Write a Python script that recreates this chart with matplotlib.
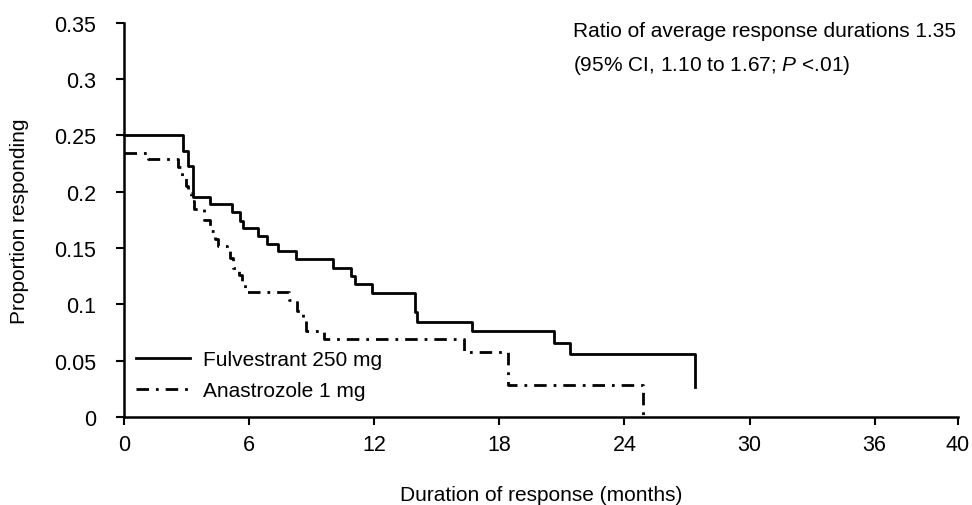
import matplotlib.pyplot as plt

plt.rcParams['font.family'] = ['Liberation Sans', 'DejaVu Sans']
plt.rcParams['mathtext.fontset'] = 'custom'
plt.rcParams['mathtext.rm'] = 'Liberation Sans'
plt.rcParams['mathtext.it'] = 'Liberation Sans:italic'

# Kaplan-Meier style step data: event times (months) and proportion after each event
fulv_t = [0, 2.83, 3.07, 3.31, 4.12, 5.18, 5.56, 5.7, 6.43, 6.86, 7.39, 8.25,
          10.0, 10.9, 11.1, 11.9, 13.96, 14.05, 16.7, 20.6, 21.4, 27.4]
fulv_p = [0.25, 0.236, 0.223, 0.195, 0.189, 0.182, 0.174, 0.168, 0.161, 0.154,
          0.147, 0.140, 0.132, 0.125, 0.118, 0.110, 0.093, 0.084, 0.076, 0.066,
          0.056, 0.027]

ana_t = [0, 1.15, 2.6, 2.8, 2.95, 3.05, 3.2, 3.35, 3.85, 4.1, 4.35, 4.5, 4.95,
         5.1, 5.25, 5.5, 5.65, 5.8, 7.9, 8.3, 8.6, 8.75, 9.6, 16.3, 18.4, 24.9]
ana_p = [0.234, 0.229, 0.222, 0.214, 0.205, 0.199, 0.192, 0.185, 0.175, 0.165,
         0.158, 0.152, 0.147, 0.141, 0.132, 0.126, 0.118, 0.111, 0.104, 0.094,
         0.085, 0.076, 0.069, 0.058, 0.028, 0.0]

x_ticks = [0, 6, 12, 18, 24, 30, 36, 40]
y_ticks = [0, 0.05, 0.1, 0.15, 0.2, 0.25, 0.3, 0.35]
y_labels = ['0', '0.05', '0.1', '0.15', '0.2', '0.25', '0.3', '0.35']

fig = plt.figure(figsize=(9.72, 5.06), dpi=100)
ax = fig.add_axes([0.1276, 0.174, 0.858, 0.779])

ax.plot(fulv_t, fulv_p, drawstyle='steps-post', color='black', lw=2.0,
        label='Fulvestrant 250 mg', clip_on=False)
ax.plot(ana_t, ana_p, drawstyle='steps-post', color='black', lw=2.0,
        linestyle=(0, (4.5, 2.5, 1, 2.5)), label='Anastrozole 1 mg', clip_on=False)

ax.set_xlim(0, 40)
ax.set_ylim(0, 0.35)
ax.set_xticks(x_ticks)
ax.set_yticks(y_ticks)
ax.set_yticklabels(y_labels)
ax.tick_params(direction='out', length=6, width=1.5, labelsize=15.5)
ax.tick_params(axis='x', pad=6)
ax.tick_params(axis='y', pad=14)

for side in ['top', 'right']:
    ax.spines[side].set_visible(False)
for side in ['left', 'bottom']:
    ax.spines[side].set_linewidth(1.8)

ax.set_xlabel('Duration of response (months)', fontsize=15, labelpad=22)
ax.set_ylabel('Proportion responding', fontsize=15, labelpad=18)

ax.legend(loc='lower left', bbox_to_anchor=(-0.003, 0.005), frameon=False,
          fontsize=15, handlelength=2.6, handletextpad=0.6, labelspacing=0.6,
          borderaxespad=0.3)

ax.text(0.538, 0.98, 'Ratio of average response durations 1.35',
        transform=ax.transAxes, fontsize=15, va='center', ha='left')
ax.text(0.538, 0.895, '(95% CI, 1.10 to 1.67; $\\mathit{P}$ <.01)',
        transform=ax.transAxes, fontsize=15, va='center', ha='left')

plt.savefig('out.png', dpi=100, facecolor='white')
